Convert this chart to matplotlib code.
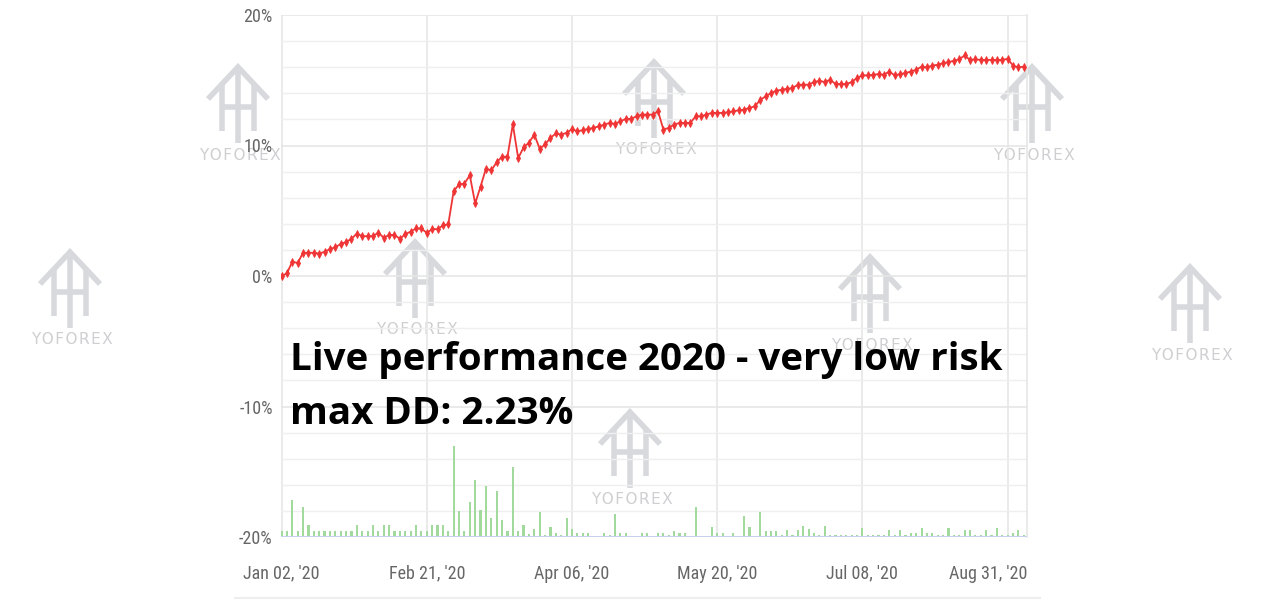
import matplotlib
matplotlib.use("Agg")
import matplotlib.pyplot as plt
import numpy as np
from matplotlib.transforms import ScaledTranslation
from matplotlib.lines import Line2D
from matplotlib import font_manager

# ---------------- data ----------------
equity = [
    0.0, 0.2, 1.1, 1.0, 1.78, 1.78, 1.78, 1.72, 1.85, 2.06,
    2.2, 2.45, 2.6, 2.85, 3.25, 3.05, 3.05, 3.05, 3.33, 2.92,
    3.15, 3.15, 2.85, 3.2, 3.4, 3.64, 3.64, 3.3, 3.59, 3.59,
    3.87, 3.97, 6.5, 7.02, 7.08, 7.72, 5.56, 6.85, 8.22, 8.1,
    8.72, 9.14, 9.14, 11.62, 9.03, 9.85, 10.22, 10.84, 9.75, 10.08,
    10.59, 10.92, 10.84, 10.97, 11.25, 11.09, 11.17, 11.27, 11.35, 11.47,
    11.6, 11.73, 11.65, 11.85, 12.04, 12.04, 12.24, 12.37, 12.37, 12.37,
    12.62, 11.22, 11.35, 11.6, 11.73, 11.73, 11.73, 12.24, 12.24, 12.37,
    12.5, 12.5, 12.5, 12.55, 12.62, 12.7, 12.75, 12.88, 13.0, 13.5,
    13.76, 14.02, 14.2, 14.27, 14.35, 14.4, 14.66, 14.66, 14.66, 14.86,
    14.96, 14.86, 15.04, 14.71, 14.71, 14.71, 14.86, 15.17, 15.37, 15.37,
    15.42, 15.47, 15.42, 15.67, 15.37, 15.47, 15.55, 15.67, 15.8, 16.05,
    15.98, 16.13, 16.18, 16.31, 16.39, 16.49, 16.6, 16.9, 16.56, 16.6,
    16.56, 16.56, 16.56, 16.56, 16.56, 16.64, 16.13, 15.98, 16.05,
]

# daily bar heights (in % units above the -20% baseline)
bars = [
    0.46, 0.46, 2.8, 0.46, 2.3, 0.95, 0.46, 0.46, 0.46, 0.46,
    0.46, 0.46, 0.46, 0.46, 0.95, 0.46, 0.46, 0.95, 0.46, 0.95,
    0.95, 0.46, 0.46, 0.46, 0.46, 0.95, 0.46, 0.46, 0.95, 0.95,
    0.95, 0.46, 6.95, 2.0, 0.46, 2.7, 4.4, 2.1, 3.9, 1.45,
    3.5, 1.3, 0.46, 5.4, 0.46, 0.95, 0.2, 0.6, 1.95, 0.15,
    0.77, 0.27, 0.15, 1.45, 0.6, 0.27, 0.27, 0.27, 0.1, 0.1,
    0.27, 0.15, 1.8, 0.27, 0.27, 0.1, 0.1, 0.27, 0.27, 0.1,
    0.27, 0.27, 0.15, 0.45, 0.27, 0.27, 0.1, 2.3, 0.1, 0.1,
    0.77, 0.27, 0.27, 0.1, 0.27, 0.1, 1.6, 0.77, 0.1, 1.95,
    0.45, 0.45, 0.45, 0.15, 0.5, 0.15, 0.56, 0.82, 0.6, 0.3,
    0.15, 0.82, 0.15, 0.15, 0.15, 0.15, 0.15, 0.15, 0.7, 0.15,
    0.15, 0.15, 0.15, 0.5, 0.15, 0.5, 0.15, 0.3, 0.3, 0.7,
    0.3, 0.3, 0.15, 0.15, 0.7, 0.15, 0.15, 0.5, 0.5, 0.15,
    0.15, 0.5, 0.15, 0.7, 0.15, 0.15, 0.3, 0.5, 0.15,
]

tick_labels = ["Jan 02, '20", "Feb 21, '20", "Apr 06, '20",
               "May 20, '20", "Jul 08, '20", "Aug 31, '20"]
tick_index = [0, 27, 54, 81, 108, 135]
y_ticks = [-20, -10, 0, 10, 20]
y_tick_labels = ["-20%", "-10%", "0%", "10%", "20%"]

title_lines = ["Live performance 2020 - very low risk", "max DD: 2.23%"]
watermark_text = "YOFOREX"
# watermark centres in pixels (x, y from top)
wm_x = [238, 654, 1032, 70, 415, 870, 1190, 630]
wm_y = [105, 100, 105, 290, 280, 295, 305, 450]

# ---------------- fonts ----------------
def find_condensed_sans():
    cands = []
    for f in font_manager.fontManager.ttflist:
        name = f.name.lower()
        fn = f.fname.lower()
        if "serif" in fn or "mono" in fn or "serif" in name or "mono" in name:
            continue
        if "bold" in fn or "italic" in fn or "oblique" in fn or "light" in fn:
            continue
        if not ("narrow" in fn or "condensed" in fn or "narrow" in name
                or "condensed" in name or str(f.stretch) in ("condensed", "semi-condensed")):
            continue
        rank = 0
        if "liberation" in fn:
            rank = 3
        elif "roboto" in fn:
            rank = 2
        elif "dejavu" in fn:
            rank = 1
        cands.append((rank, f.fname))
    if not cands:
        return None
    cands.sort(reverse=True)
    return cands[0][1]

cond_file = find_condensed_sans()
if cond_file:
    lab_fp = font_manager.FontProperties(fname=cond_file, size=13)
else:
    lab_fp = font_manager.FontProperties(family="Liberation Sans", size=12)

# ---------------- figure ----------------
W, H = 1280, 600
fig = plt.figure(figsize=(W / 100, H / 100), dpi=100)
fig.patch.set_facecolor("white")

# watermark layer (pixel coordinates)
axw = fig.add_axes([0, 0, 1, 1], zorder=0)
axw.set_xlim(0, W)
axw.set_ylim(H, 0)
axw.axis("off")
wm_col = "#d8d9dd"
wm_label = "\u200a".join(watermark_text)
for cx, cy in zip(wm_x, wm_y):
    lw = 4.0
    axw.plot([cx - 30, cx, cx + 30], [cy - 6, cy - 38, cy - 6], color=wm_col,
             lw=lw, solid_capstyle="butt", solid_joinstyle="miter")
    axw.plot([cx - 16, cx - 16], [cy - 20, cy + 26], color=wm_col, lw=lw, solid_capstyle="butt")
    axw.plot([cx + 16, cx + 16], [cy - 20, cy + 26], color=wm_col, lw=lw, solid_capstyle="butt")
    axw.plot([cx, cx], [cy - 34, cy + 38], color=wm_col, lw=lw, solid_capstyle="butt")
    axw.plot([cx - 16, cx + 16], [cy + 2, cy + 2], color=wm_col, lw=lw, solid_capstyle="butt")
    axw.text(cx + 2, cy + 50, wm_label, ha="center", va="center",
             fontsize=11, color="#cfcfd2", family="DejaVu Sans")

# main chart axes
left, right, top, bottom = 281, 1027, 15, 537
ax = fig.add_axes([left / W, 1 - bottom / H, (right - left) / W, (bottom - top) / H], zorder=1)
ax.patch.set_alpha(0)

idx = np.arange(len(equity))
ax.set_xlim(-0.1, 138.6)
ax.set_ylim(-20, 20)

ax.set_yticks(y_ticks)
ax.set_yticklabels(y_tick_labels)
ax.set_yticks(np.arange(-20, 21, 2), minor=True)
ax.set_xticks(tick_index)
ax.set_xticklabels(tick_labels)

ax.grid(True, which="major", axis="both", color="#e6e6e6", lw=1.2, zorder=0)
ax.grid(True, which="minor", axis="y", color="#efefef", lw=1.0, zorder=0)
ax.set_axisbelow(True)

ax.tick_params(axis="both", which="both", length=0, colors="#666666")
ax.tick_params(axis="y", pad=6)
ax.tick_params(axis="x", pad=20)
for t in ax.get_xticklabels() + ax.get_yticklabels():
    t.set_fontproperties(lab_fp)
    t.set_color("#666666")
last = ax.get_xticklabels()[-1]
last.set_horizontalalignment("right")
last.set_transform(last.get_transform() + ScaledTranslation(20 / 100, 0, fig.dpi_scale_trans))

for s in ["left", "top", "bottom"]:
    ax.spines[s].set_visible(False)
ax.spines["right"].set_color("#e6e6e6")
ax.spines["right"].set_linewidth(1.2)

ax.bar(idx, bars, bottom=-20, width=0.4, color="#a2d99c", zorder=2)
ax.axhline(-20, color="#c8cff0", lw=1.4, zorder=3)
ax.plot(idx, equity, color="#ef3535", lw=1.3, marker="d", ms=3.8,
        markeredgewidth=0.6, zorder=4)

# overlay text
fig.text(290 / W, 1 - 370 / H, title_lines[0], fontsize=27.7, fontweight="bold",
         family="Open Sans", color="black", va="baseline", ha="left", zorder=5)
fig.text(290 / W, 1 - 424 / H, title_lines[1], fontsize=27.7, fontweight="bold",
         family="Open Sans", color="black", va="baseline", ha="left", zorder=5)

# bottom separator
fig.add_artist(Line2D([235 / W, 1040 / W], [1 - 598 / H, 1 - 598 / H],
                      color="#eeeeee", lw=1.5))

fig.savefig("out.png", dpi=100, facecolor="white")
